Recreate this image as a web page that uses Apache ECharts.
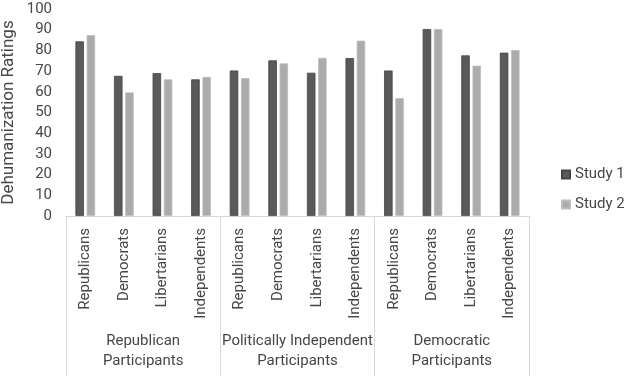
<!DOCTYPE html>
<html>
<head>
<meta charset="utf-8">
<script src="https://cdn.jsdelivr.net/npm/echarts@6/dist/echarts.min.js"></script>
<style>
html,body{margin:0;padding:0;background:#fff;}
#chart{width:624px;height:376px;}
</style>
</head>
<body>
<div id="chart"></div>
<script>
// 数据
var parties = ['Republicans', 'Democrats', 'Libertarians', 'Independents'];
var groups = ['Republican\nParticipants', 'Politically Independent\nParticipants', 'Democratic\nParticipants'];
var study1 = [84.4, 67.7, 69, 66, 70.3, 75.2, 69.2, 76.3, 70.3, 90.3, 77.6, 78.9];
var study2 = [87.4, 59.7, 66, 67.2, 66.6, 73.7, 76.4, 84.7, 57, 90.3, 72.6, 80.2];
var yTicks = [0, 10, 20, 30, 40, 50, 60, 70, 80, 90, 100];

// 每个组重复一次党派
var cats = [];
groups.forEach(function(g){
  parties.forEach(function(p){ cats.push(p); });
});

var myChart = echarts.init(document.getElementById('chart'));
var font = 'Roboto';
var txt = '#474747';
var option = {
  animation: false,
  textStyle: {fontFamily: font},
  grid: {left: 66, right: 95, top: 9, bottom: 160, containLabel: false, outerBoundsMode: 'none'},
  legend: {
    orient: 'vertical',
    left: 556,
    top: 162,
    itemWidth: 8,
    itemHeight: 8,
    itemGap: 15,
    icon: 'rect',
    textStyle: {fontSize: 15, color: txt, fontFamily: font},
    data: ['Study 1', 'Study 2']
  },
  xAxis: [{
    type: 'category',
    data: cats,
    axisLine: {show: false},
    axisTick: {show: false},
    axisLabel: {interval: 0, rotate: 90, margin: 12, fontSize: 15, color: txt, fontFamily: font}
  }, {
    type: 'category',
    data: groups,
    position: 'bottom',
    axisLine: {show: true, lineStyle: {color: '#D9D9D9', width: 1}},
    axisTick: {show: true, length: 160, lineStyle: {color: '#D9D9D9', width: 1}},
    axisLabel: {interval: 0, margin: 115, fontSize: 15, lineHeight: 20, color: txt, fontFamily: font}
  }],
  yAxis: {
    type: 'value',
    min: 0,
    max: yTicks[yTicks.length - 1],
    interval: 10,
    name: 'Dehumanization Ratings',
    nameLocation: 'middle',
    nameGap: 49,
    nameMoveOverlap: false,
    nameTextStyle: {fontSize: 17, color: txt, fontFamily: font},
    axisLine: {show: false},
    axisTick: {show: false},
    splitLine: {show: false},
    axisLabel: {margin: 14, fontSize: 15, color: txt, fontFamily: font}
  },
  series: [{
    name: 'Study 1',
    type: 'bar',
    data: study1,
    barWidth: 8.5,
    barGap: '32%',
    itemStyle: {color: '#5A5A5A', borderColor: '#444444', borderWidth: 0.8}
  }, {
    name: 'Study 2',
    type: 'bar',
    data: study2,
    barWidth: 8.5,
    itemStyle: {color: '#ABABAB', borderColor: '#BEBEBE', borderWidth: 0.8}
  }]
};
myChart.setOption(option);
</script>
</body>
</html>
